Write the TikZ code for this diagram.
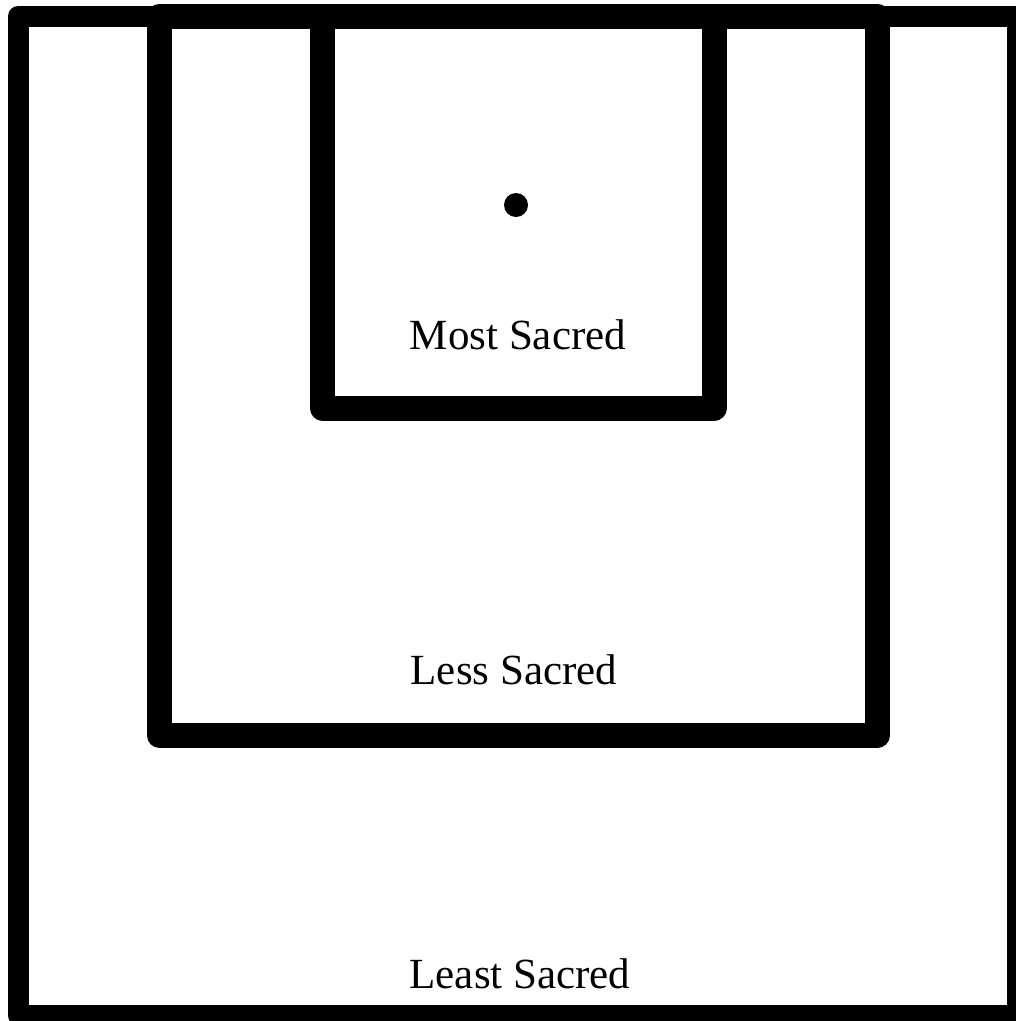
\documentclass[tikz,border=0pt]{standalone}
\usepackage{fontspec}
\setmainfont{Liberation Serif}
\usepackage{tikz}
\usetikzlibrary{positioning}

\begin{document}
\begin{tikzpicture}[x=1pt, y=-1pt,
    wall/.style={draw=black, line width=25pt, line join=round, line cap=round},
    outerwall/.style={wall, line width=21pt},
    zonelabel/.style={anchor=base, inner sep=0pt, font=\fontsize{43}{50}\selectfont}
]
  \useasboundingbox (0,0) rectangle (1016,1021);
  \clip (0,0) rectangle (1016,1021);
  % courts, outermost first
  \draw[outerwall] (18.5,16) rectangle (1017.5,1015.5);
  \draw[wall] (159.5,16) rectangle (877,735.5);
  \draw[wall] (322.5,16) rectangle (714,408);
  % the centre point
  \fill (516,205) circle (12);
  % labels
  \node[zonelabel] (most) at (518,349) {Most Sacred};
  \node[zonelabel] (less) at (514,684) {Less Sacred};
  \node[zonelabel] (least) at (520,988) {Least Sacred};
\end{tikzpicture}
\end{document}
